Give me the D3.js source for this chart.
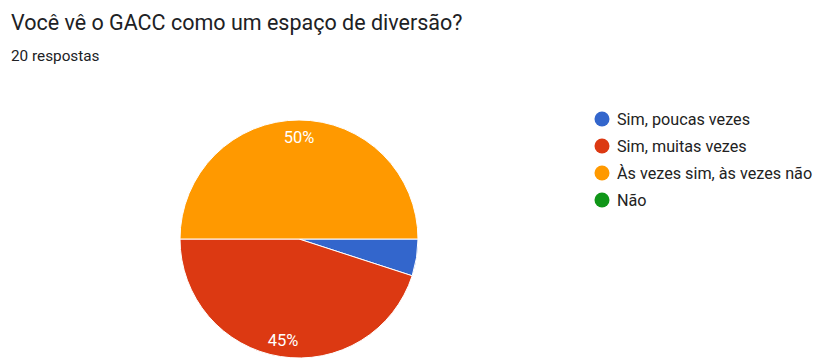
<!DOCTYPE html>
<html>
<head>
<meta charset="utf-8">
<script src="https://cdn.jsdelivr.net/npm/d3@7"></script>
<style>
  body { margin: 0; background: #fff; }
  svg { display: block; font-family: Roboto, Arial, sans-serif; }
</style>
</head>
<body>
<svg id="chart" width="814" height="363"></svg>
<script>
const categories = ["Sim, poucas vezes", "Sim, muitas vezes", "Às vezes sim, às vezes não", "Não"];
const counts = [1, 9, 10, 0];
const colors = ["#3366cc", "#dc3912", "#ff9900", "#109618"];
const title = "Você vê o GACC como um espaço de diversão?";
const subtitle = "20 respostas";

const svg = d3.select("#chart");
const total = d3.sum(counts);

svg.append("text")
  .attr("x", 11).attr("y", 30)
  .attr("font-size", 21.5)
  .attr("fill", "#202124")
  .text(title);

svg.append("text")
  .attr("x", 11).attr("y", 61)
  .attr("font-size", 15.3)
  .attr("fill", "#202124")
  .text(subtitle);

const cx = 299, cy = 239, r = 119;
const data = categories.map((c, i) => ({ name: c, value: counts[i], color: colors[i] }));

// start at 3 o'clock, clockwise
const pie = d3.pie().value(d => d.value).sort(null)
  .startAngle(Math.PI / 2).endAngle(Math.PI / 2 + 2 * Math.PI);
const arc = d3.arc().innerRadius(0).outerRadius(r);
const labelArc = d3.arc().innerRadius(102).outerRadius(102);

const g = svg.append("g").attr("transform", `translate(${cx},${cy})`);
const arcs = pie(data).filter(d => d.data.value > 0);

g.selectAll("path")
  .data(arcs)
  .join("path")
  .attr("d", arc)
  .attr("fill", d => d.data.color)
  .attr("stroke", "#fff")
  .attr("stroke-width", 1);

g.selectAll("text")
  .data(arcs.filter(d => d.data.value / total >= 0.1))
  .join("text")
  .attr("x", d => labelArc.centroid(d)[0])
  .attr("y", d => labelArc.centroid(d)[1])
  .attr("dy", "0.36em")
  .attr("text-anchor", "middle")
  .attr("font-size", 16.5)
  .attr("fill", "#fff")
  .text(d => Math.round(d.data.value / total * 100) + "%");

// legenda
const legend = svg.append("g").attr("transform", "translate(602,119)");
const item = legend.selectAll("g")
  .data(data)
  .join("g")
  .attr("transform", (d, i) => `translate(0,${i * 27})`);

item.append("circle")
  .attr("r", 7.5)
  .attr("fill", d => d.color);

item.append("text")
  .attr("x", 15)
  .attr("dy", "0.36em")
  .attr("font-size", 16.2)
  .attr("fill", "#222")
  .text(d => d.name);
</script>
</body>
</html>
